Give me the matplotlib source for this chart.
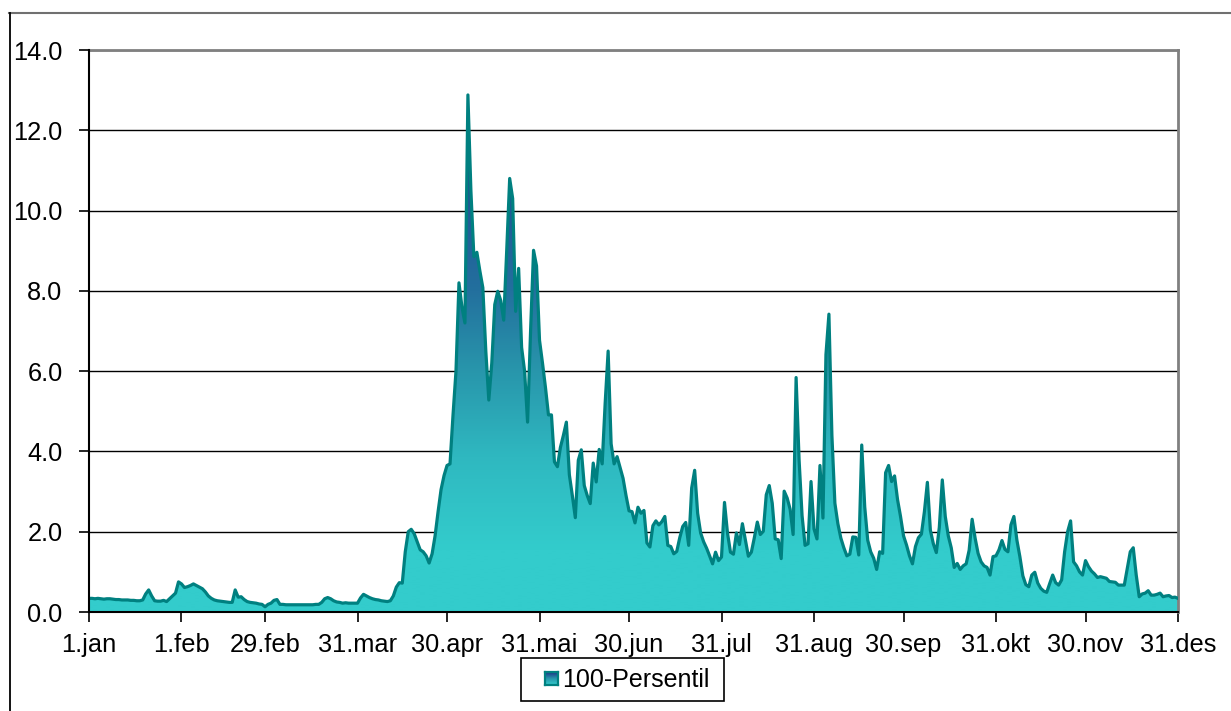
import numpy as np
import matplotlib
matplotlib.use("Agg")
import matplotlib.pyplot as plt
from matplotlib.colors import LinearSegmentedColormap
from matplotlib.patches import Rectangle
from matplotlib.lines import Line2D

plt.rcParams['font.family'] = ['Liberation Sans', 'DejaVu Sans']

# Daily maximum values (100th percentile), 1 Jan - 31 Dec (leap year, 366 days)
jan = [0.34, 0.34, 0.33, 0.34, 0.33, 0.32, 0.33, 0.33, 0.32, 0.31,
       0.31, 0.30, 0.30, 0.30, 0.29, 0.29, 0.28, 0.28, 0.30, 0.45,
       0.55, 0.40, 0.28, 0.27, 0.27, 0.29, 0.26, 0.33, 0.40, 0.47,
       0.75]
feb = [0.70, 0.61, 0.63, 0.66, 0.70, 0.66, 0.62, 0.58, 0.50, 0.40,
       0.34, 0.30, 0.28, 0.27, 0.26, 0.25, 0.24, 0.24, 0.55, 0.37,
       0.38, 0.31, 0.26, 0.24, 0.23, 0.22, 0.20, 0.19, 0.13]
mar = [0.19, 0.22, 0.29, 0.31, 0.19, 0.19, 0.18, 0.18, 0.18, 0.18,
       0.18, 0.18, 0.18, 0.18, 0.18, 0.18, 0.19, 0.19, 0.24, 0.33,
       0.36, 0.33, 0.28, 0.25, 0.24, 0.22, 0.23, 0.22, 0.22, 0.22,
       0.22]
apr = [0.35, 0.44, 0.40, 0.36, 0.33, 0.31, 0.30, 0.28, 0.27, 0.26,
       0.28, 0.40, 0.62, 0.73, 0.72, 1.50, 2.00, 2.06, 1.95, 1.75,
       1.55, 1.50, 1.40, 1.22, 1.45, 1.90, 2.50, 3.05, 3.40, 3.65]
mai = [3.69, 4.90, 6.00, 8.20, 7.60, 7.20, 12.88, 10.50, 8.85, 8.96,
       8.50, 8.08, 6.50, 5.28, 6.20, 7.66, 7.99, 7.76, 7.27, 9.00,
       10.80, 10.30, 7.49, 8.56, 6.59, 6.00, 4.73, 7.00, 9.01, 8.62,
       6.77]
jun = [6.20, 5.59, 4.91, 4.91, 3.74, 3.62, 4.10, 4.40, 4.73, 3.42,
       2.90, 2.35, 3.78, 4.04, 3.15, 2.90, 2.70, 3.71, 3.24, 4.05,
       3.69, 5.20, 6.50, 4.19, 3.69, 3.87, 3.60, 3.33, 2.90, 2.52]
jul = [2.50, 2.22, 2.61, 2.46, 2.53, 1.72, 1.62, 2.15, 2.27, 2.17,
       2.25, 2.38, 1.66, 1.63, 1.45, 1.51, 1.85, 2.13, 2.23, 1.66,
       3.09, 3.53, 2.46, 1.97, 1.75, 1.59, 1.40, 1.20, 1.49, 1.28,
       1.37]
aug = [2.73, 1.97, 1.49, 1.44, 1.97, 1.68, 2.20, 1.80, 1.39, 1.49,
       1.85, 2.24, 1.93, 2.01, 2.92, 3.15, 2.71, 1.82, 1.80, 1.33,
       3.01, 2.84, 2.56, 1.93, 5.84, 3.79, 2.40, 1.66, 1.70, 3.25,
       2.07]
sep = [1.82, 3.65, 2.34, 6.41, 7.42, 4.40, 2.71, 2.20, 1.84, 1.60,
       1.40, 1.44, 1.87, 1.86, 1.42, 4.16, 2.62, 1.79, 1.50, 1.34,
       1.06, 1.50, 1.46, 3.47, 3.65, 3.25, 3.39, 2.80, 2.38, 1.90]
okt = [1.67, 1.40, 1.20, 1.63, 1.85, 1.94, 2.50, 3.23, 2.04, 1.70,
       1.48, 2.11, 3.29, 2.38, 1.90, 1.60, 1.11, 1.21, 1.06, 1.15,
       1.20, 1.54, 2.31, 1.84, 1.46, 1.25, 1.15, 1.11, 0.92, 1.38,
       1.40]
nov = [1.55, 1.78, 1.56, 1.50, 2.17, 2.38, 1.79, 1.38, 0.90, 0.68,
       0.63, 0.92, 0.99, 0.72, 0.59, 0.52, 0.49, 0.71, 0.92, 0.73,
       0.67, 0.80, 1.50, 2.00, 2.27, 1.25, 1.15, 1.00, 0.92, 1.28]
des = [1.13, 1.02, 0.95, 0.86, 0.88, 0.86, 0.84, 0.76, 0.75, 0.74,
       0.67, 0.67, 0.67, 1.09, 1.50, 1.60, 0.92, 0.38, 0.45, 0.47,
       0.53, 0.42, 0.42, 0.44, 0.47, 0.38, 0.40, 0.41, 0.36, 0.37,
       0.34]

values = np.array(jan + feb + mar + apr + mai + jun + jul + aug + sep + okt + nov + des)
days = np.arange(len(values))

tick_days = [0, 31, 59, 90, 120, 151, 181, 212, 243, 273, 304, 334, 365]
tick_labels = ['1.jan', '1.feb', '29.feb', '31.mar', '30.apr', '31.mai', '30.jun',
               '31.jul', '31.aug', '30.sep', '31.okt', '30.nov', '31.des']
y_ticks = [0, 2, 4, 6, 8, 10, 12, 14]
series_name = '100-Persentil'

W, H = 1231, 711
fig = plt.figure(figsize=(W / 100, H / 100), dpi=100)
fig.patch.set_facecolor('white')
ax = fig.add_axes([89 / W, (H - 612) / H, (1178 - 89) / W, (612 - 50) / H])

# vertical gradient: teal near the base, dark blue at the highest value
cmap = LinearSegmentedColormap.from_list(
    'area', [(0.0, '#33CCCC'), (0.12, '#33CCCC'), (0.3, '#2FB8C0'),
             (0.47, '#2895AB'), (0.62, '#23709E'), (0.78, '#205A96'),
             (1.0, '#1D3486')])
vmax = values.max()
poly = ax.fill_between(days, values, 0, facecolor='none', edgecolor='none')
grad = np.linspace(0, 1, 256).reshape(-1, 1)
img = ax.imshow(grad, aspect='auto', cmap=cmap, origin='lower',
                extent=[0, len(values) - 1, 0, vmax], zorder=2,
                interpolation='bilinear')
img.set_clip_path(poly.get_paths()[0], transform=ax.transData)

ax.plot(days, values, color='#008080', lw=2.3, zorder=3, solid_joinstyle='round')

ax.set_xlim(0, 365)
ax.set_ylim(0, 14)
ax.set_yticks(y_ticks)
ax.set_yticklabels([f'{v:.1f}' for v in y_ticks])
ax.set_xticks(tick_days)
ax.set_xticklabels(tick_labels)
ax.tick_params(axis='both', labelsize=18.3, color='black', length=7, width=1.2,
               direction='out')
ax.tick_params(axis='y', pad=12)
ax.tick_params(axis='x', pad=8)
ax.yaxis.grid(True, color='black', lw=1.0, zorder=1)
ax.set_axisbelow(True)
for s in ['left', 'bottom']:
    ax.spines[s].set_color('black')
    ax.spines[s].set_linewidth(1.5)
    ax.spines[s].set_zorder(4)
for s in ['top', 'right']:
    ax.spines[s].set_color('#808080')
    ax.spines[s].set_linewidth(2.0)


def fx(px):
    return px / W


def fy(py):
    return 1 - py / H


# legend box
fig.add_artist(Rectangle((fx(520.5), fy(700.5)), fx(723.5) - fx(520.5),
                         fy(657.5) - fy(700.5), transform=fig.transFigure,
                         facecolor='white', edgecolor='black', lw=1.2, zorder=0))
key = fig.add_axes([fx(545), fy(685), fx(558) - fx(545), fy(672) - fy(685)])
key.set_zorder(5)
key.imshow(np.linspace(0, 1, 32).reshape(-1, 1), aspect='auto', origin='lower',
           cmap=LinearSegmentedColormap.from_list('key', ['#33CCCC', '#2895AB', '#1D3486']),
           extent=[0, 1, 0, 1])
key.set_xticks([])
key.set_yticks([])
for s in key.spines.values():
    s.set_color('#008080')
    s.set_linewidth(1.6)
fig.text(fx(562), fy(680), series_name, fontsize=18, ha='left', va='center',
         zorder=6)

# chart border
fig.add_artist(Line2D([9 / W, 1.0], [1 - 12.5 / H, 1 - 12.5 / H],
                      color='#707070', lw=1.5, transform=fig.transFigure))
fig.add_artist(Line2D([9.5 / W, 9.5 / W], [0.0, 1 - 12.5 / H],
                      color='black', lw=1.3, transform=fig.transFigure))

fig.savefig('out.png', dpi=100)
